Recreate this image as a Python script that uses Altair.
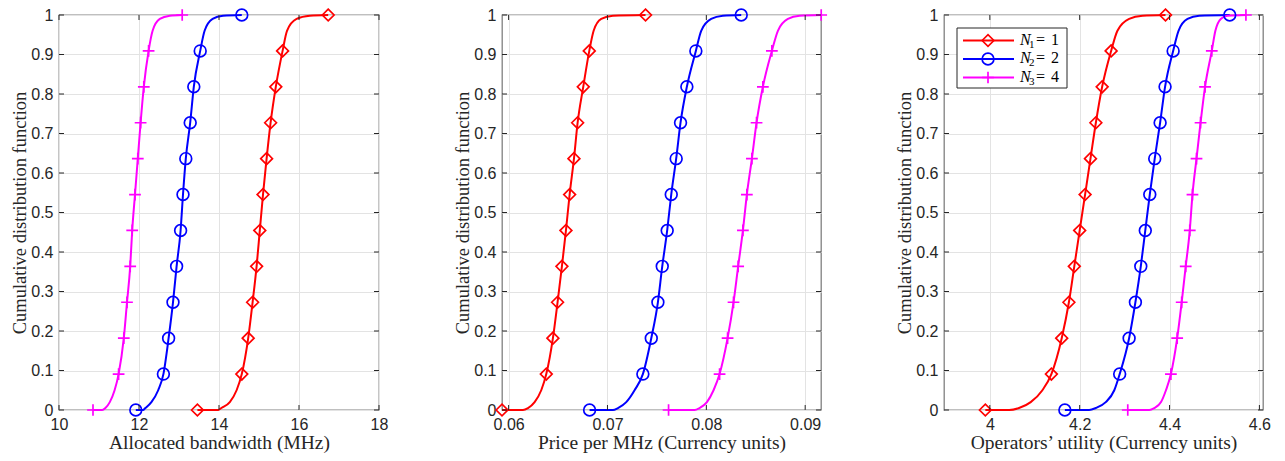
import altair as alt
import pandas as pd

# ---------------- data ----------------
series_names = ["N1 = 1", "N2 = 2", "N3 = 4"]
legend_sub = ["1", "2", "3"]
legend_val = ["1", "2", "4"]
colors = ["#ff0000", "#0000ff", "#ff00ff"]
shapes = ["diamond", "circle", "M-1,0L1,0M0,-1L0,1"]

marker_levels = [k / 11 for k in range(12)]
low_levels = [0.0, 0.005, 0.02, 0.05]
high_levels = [0.96, 0.99, 0.998]

y_ticks = [round(0.1 * k, 1) for k in range(11)]

# Panel 1: Allocated bandwidth (MHz)
bw_ticks = [10, 12, 14, 16, 18]
bw_domain = [10, 18]
bw_red = [13.46, 14.57, 14.73, 14.84, 14.94, 15.02, 15.10, 15.19, 15.29, 15.42, 15.59, 16.73]
bw_red_low = [13.98, 14.06, 14.27, 14.44]
bw_red_high = [15.70, 15.94, 16.27]
bw_blue = [11.92, 12.61, 12.74, 12.85, 12.94, 13.04, 13.10, 13.17, 13.28, 13.37, 13.53, 14.57]
bw_blue_low = [12.10, 12.16, 12.31, 12.48]
bw_blue_high = [13.64, 13.84, 14.10]
bw_mag = [10.85, 11.49, 11.62, 11.70, 11.78, 11.83, 11.90, 11.97, 12.04, 12.12, 12.24, 13.08]
bw_mag_low = [11.08, 11.16, 11.27, 11.39]
bw_mag_high = [12.34, 12.52, 12.77]

# Panel 2: Price per MHz
pr_ticks = [0.06, 0.07, 0.08, 0.09]
pr_domain = [0.05933, 0.09160]
pr_red = [0.05933, 0.06381, 0.06448, 0.06495, 0.06539, 0.06580, 0.06617, 0.06661, 0.06698, 0.06755, 0.06816, 0.07385]
pr_red_low = [0.06145, 0.06196, 0.06263, 0.06330]
pr_red_high = [0.06860, 0.06937, 0.07055]
pr_blue = [0.06819, 0.07358, 0.07443, 0.07510, 0.07554, 0.07604, 0.07645, 0.07695, 0.07739, 0.07803, 0.07894, 0.08353]
pr_blue_low = [0.07055, 0.07106, 0.07190, 0.07274]
pr_blue_high = [0.07948, 0.08049, 0.08167]
pr_mag = [0.07618, 0.08134, 0.08215, 0.08275, 0.08322, 0.08370, 0.08410, 0.08461, 0.08508, 0.08572, 0.08663, 0.09162]
pr_mag_low = [0.07881, 0.07931, 0.08006, 0.08073]
pr_mag_high = [0.08724, 0.08825, 0.08943]

# Panel 3: Operators' utility
ut_ticks = [4.0, 4.2, 4.4, 4.6]
ut_domain = [3.898, 4.608]
ut_red = [3.990, 4.137, 4.160, 4.176, 4.188, 4.200, 4.212, 4.224, 4.236, 4.250, 4.270, 4.391]
ut_red_low = [4.043, 4.065, 4.091, 4.117]
ut_red_high = [4.284, 4.310, 4.340]
ut_blue = [4.167, 4.289, 4.310, 4.324, 4.336, 4.346, 4.356, 4.367, 4.379, 4.390, 4.408, 4.534]
ut_blue_low = [4.221, 4.236, 4.258, 4.277]
ut_blue_high = [4.420, 4.440, 4.466]
ut_mag = [4.307, 4.403, 4.417, 4.427, 4.436, 4.445, 4.451, 4.460, 4.469, 4.479, 4.494, 4.570]
ut_mag_low = [4.355, 4.366, 4.381, 4.392]
ut_mag_high = [4.502, 4.514, 4.529]

# ---------------- style ----------------
LABEL_FONT = "Liberation Sans"
TITLE_FONT = "Liberation Serif"
TXT = "#262626"
GRID = "#e3e3e3"
TICK_LEN = 5
H = 395
MSIZE = 138


def build_frames(curves):
    line_rows, mark_rows = [], []
    for name, (marks, lows, highs) in zip(series_names, curves):
        for x, y in zip(marks, marker_levels):
            mark_rows.append({"series": name, "x": x, "y": y})
        pts = [(marks[0], 0.0)]
        pts += list(zip(lows, low_levels))
        pts += list(zip(marks[1:-1], marker_levels[1:-1]))
        pts += list(zip(highs, high_levels))
        pts.append((marks[-1], 1.0))
        for x, y in pts:
            line_rows.append({"series": name, "x": x, "y": y})
    return pd.DataFrame(line_rows), pd.DataFrame(mark_rows)


def panel(curves, domain, xticks, xfmt, xtitle, W, legend=False):
    line_df, mark_df = build_frames(curves)
    xscale = alt.Scale(domain=domain, nice=False, zero=False)
    yscale = alt.Scale(domain=[0, 1], nice=False, zero=False)
    x_axis = alt.Axis(values=xticks, format=xfmt, title=xtitle, grid=True,
                      gridColor=GRID, gridWidth=1, ticks=False, domain=False,
                      labelFont=LABEL_FONT, labelFontSize=16, labelColor=TXT,
                      labelPadding=6, labelFlush=False, labelOverlap=False,
                      titleFont=TITLE_FONT, titleFontSize=19.5, titleFontWeight="normal",
                      titleColor=TXT, titleBaseline="alphabetic", titleY=38.5,
                      titleX=W / 2, titleAlign="center")
    y_axis = alt.Axis(values=y_ticks, format=".1~f", title="Cumulative distribution function",
                      grid=True, gridColor=GRID, gridWidth=1, ticks=False, domain=False,
                      labelFont=LABEL_FONT, labelFontSize=16, labelColor=TXT,
                      labelPadding=6, labelFlush=False, labelOverlap=False,
                      titleFont=TITLE_FONT, titleFontSize=18.5, titleFontWeight="normal",
                      titleColor=TXT, titleBaseline="alphabetic", titleX=-34,
                      titleY=H / 2, titleAlign="center", titleAngle=270)

    def X():
        return alt.X("x:Q", scale=xscale, axis=x_axis)

    def Y():
        return alt.Y("y:Q", scale=yscale, axis=y_axis)

    color = alt.Color("series:N", scale=alt.Scale(domain=series_names, range=colors), legend=None)
    shape = alt.Shape("series:N", scale=alt.Scale(domain=series_names, range=shapes), legend=None)

    lines = alt.Chart(line_df).mark_line(strokeWidth=2, interpolate="monotone").encode(
        x=X(), y=Y(), color=color, detail="series:N")
    points = alt.Chart(mark_df).mark_point(filled=False, size=MSIZE, strokeWidth=1.7, opacity=1).encode(
        x=X(), y=Y(), color=color, shape=shape)

    xt = pd.DataFrame({"x": xticks})
    yt = pd.DataFrame({"y": y_ticks})
    tk = dict(color=TXT, strokeWidth=1)
    t_bottom = alt.Chart(xt).mark_rule(**tk).encode(x=X(), y=alt.value(H), y2=alt.value(H - TICK_LEN))
    t_top = alt.Chart(xt).mark_rule(**tk).encode(x=X(), y=alt.value(0), y2=alt.value(TICK_LEN))
    t_left = alt.Chart(yt).mark_rule(**tk).encode(y=Y(), x=alt.value(0), x2=alt.value(TICK_LEN))
    t_right = alt.Chart(yt).mark_rule(**tk).encode(y=Y(), x=alt.value(W), x2=alt.value(W - TICK_LEN))

    layers = [lines, points, t_bottom, t_top, t_left, t_right]

    if legend:
        one = pd.DataFrame({"k": [0]})
        layers.append(alt.Chart(one).mark_rect(fill="white", stroke=TXT, strokeWidth=1).encode(
            x=alt.value(13), x2=alt.value(123), y=alt.value(13), y2=alt.value(73)))
        rows = [25.5, 44, 62.5]
        for i, name in enumerate(series_names):
            r = rows[i]
            layers.append(alt.Chart(one).mark_rule(color=colors[i], strokeWidth=2).encode(
                x=alt.value(19), x2=alt.value(70), y=alt.value(r)))
            layers.append(alt.Chart(one).mark_point(
                filled=False, size=MSIZE, strokeWidth=1.7, color=colors[i], shape=shapes[i], opacity=1
            ).encode(x=alt.value(44), y=alt.value(r)))
            layers.append(alt.Chart(one).mark_text(
                font=TITLE_FONT, fontStyle="italic", fontSize=16, align="left",
                baseline="alphabetic", color="black").encode(
                x=alt.value(76), y=alt.value(r + 4), text=alt.value("N")))
            layers.append(alt.Chart(one).mark_text(
                font=TITLE_FONT, fontSize=11, align="left",
                baseline="alphabetic", color="black").encode(
                x=alt.value(85), y=alt.value(r + 7), text=alt.value(legend_sub[i])))
            layers.append(alt.Chart(one).mark_text(
                font=TITLE_FONT, fontSize=16, align="left",
                baseline="alphabetic", color="black").encode(
                x=alt.value(92), y=alt.value(r + 4), text=alt.value("=")))
            layers.append(alt.Chart(one).mark_text(
                font=TITLE_FONT, fontSize=16, align="left",
                baseline="alphabetic", color="black").encode(
                x=alt.value(107), y=alt.value(r + 4), text=alt.value(legend_val[i])))

    return alt.layer(*layers).properties(width=W, height=H)


p1 = panel([(bw_red, bw_red_low, bw_red_high),
            (bw_blue, bw_blue_low, bw_blue_high),
            (bw_mag, bw_mag_low, bw_mag_high)],
           bw_domain, bw_ticks, "d", "Allocated bandwidth (MHz)", 320)
p2 = panel([(pr_red, pr_red_low, pr_red_high),
            (pr_blue, pr_blue_low, pr_blue_high),
            (pr_mag, pr_mag_low, pr_mag_high)],
           pr_domain, pr_ticks, ".2f", "Price per MHz (Currency units)", 319)
p3 = panel([(ut_red, ut_red_low, ut_red_high),
            (ut_blue, ut_blue_low, ut_blue_high),
            (ut_mag, ut_mag_low, ut_mag_high)],
           ut_domain, ut_ticks, ".1~f", "Operators\u2019 utility (Currency units)", 319, legend=True)

chart = alt.hconcat(p1, p2, p3, spacing=123, bounds="flush").properties(
    autosize=alt.AutoSizeParams(type="none"),
    padding={"left": 51, "top": 7, "right": 1216, "bottom": 439},
).configure_view(stroke="#808080", strokeWidth=1.3)

chart.save("out.html", embed_options={"renderer": "svg", "actions": False})
